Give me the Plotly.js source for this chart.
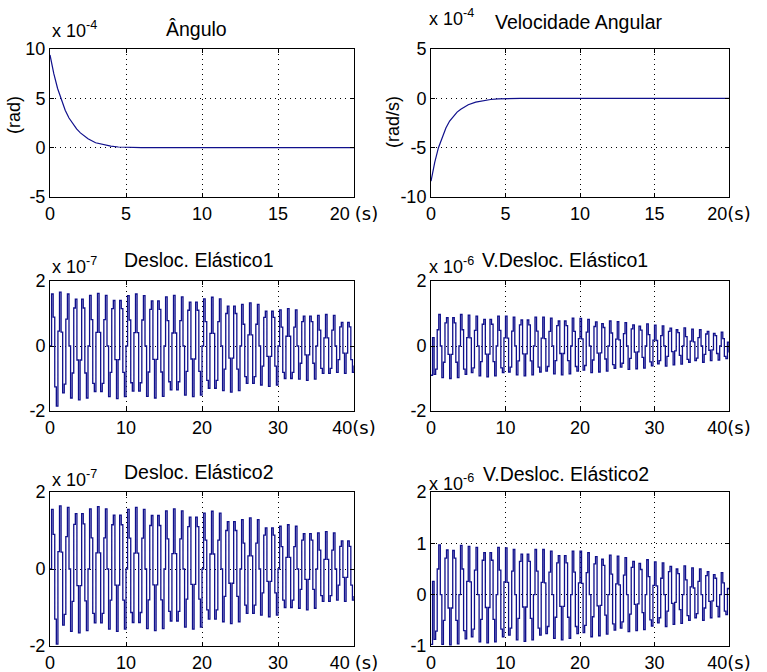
<!DOCTYPE html>
<html>
<head>
<meta charset="utf-8">
<script src="https://cdn.plot.ly/plotly-3.0.1.min.js"></script>
<style>html,body{margin:0;padding:0;background:#fff}#chart{width:767px;height:672px}</style>
</head>
<body>
<div id="chart"></div>
<script>
// ---- data (values in the axis' scaled units) ----
const angTime = [0,0.1,0.25,0.5,0.75,1,1.25,1.5,1.75,2,2.5,3,3.5,4,4.5,5,6,8,10,15,20];
const angValues = [9.4,8.6,7.5,6.0,4.8,3.8,3.0,2.4,1.9,1.5,0.9,0.5,0.3,0.15,0.07,0.03,0.01,0,0,0,0];

const velTime = [0,0.1,0.25,0.5,0.75,1,1.25,1.5,1.75,2,2.5,3,3.5,4,4.5,5,6,8,10,15,20];
const velValues = [-8.4,-7.6,-6.5,-5.0,-3.9,-3.0,-2.3,-1.8,-1.4,-1.1,-0.65,-0.38,-0.22,-0.12,-0.06,-0.03,-0.01,0,0,0,0];

const sampleStart = 0;
const sampleStep = 40/192;

const desloc1 = [0,1.6,0.89,-1.26,-1.85,0.46,1.66,0.43,-1.44,-1.17,0.83,1.6,0,-1.6,-0.83,1.17,1.44,-0.43,-1.66,-0.43,1.44,1.17,-0.83,-1.6,
0,1.56,0.81,-1.15,-1.4,0.42,1.62,0.42,-1.4,-1.15,0.81,1.56,0,-1.56,-0.81,1.15,1.4,-0.42,-1.62,-0.42,1.4,1.15,-0.81,-1.56,
0,1.55,0.8,-1.13,-1.39,0.41,1.6,0.41,-1.39,-1.13,0.8,1.55,0,-1.55,-0.8,1.13,1.39,-0.41,-1.6,-0.41,1.39,1.13,-0.8,-1.55,
0,1.51,0.78,-1.1,-1.35,0.4,1.56,0.4,-1.35,-1.1,0.78,1.51,0,-1.51,-0.78,1.1,1.35,-0.4,-1.56,-0.4,1.35,1.1,-0.78,-1.51,
0,1.45,0.75,-1.06,-1.3,0.39,1.5,0.39,-1.3,-1.06,0.75,1.45,0,-1.37,-0.71,1,1.23,-0.37,-1.42,-0.37,1.23,1,-0.71,-1.37,
0,1.28,0.67,-0.94,-1.15,0.34,1.33,0.34,-1.15,-0.94,0.67,1.28,0,-1.2,-0.62,0.88,1.07,-0.32,-1.24,-0.32,1.07,0.88,-0.62,-1.2,
0,1.11,0.58,-0.81,-1,0.3,1.15,0.3,-1,-0.81,0.58,1.11,0,-1.02,-0.53,0.75,0.92,-0.27,-1.06,-0.27,0.92,0.75,-0.53,-1.02,
0,0.94,0.49,-0.69,-0.84,0.25,0.97,0.25,-0.84,-0.69,0.49,0.94,0,-0.81,-0.42,0.59,0.73,-0.22,-0.84,-0.22,0.73,0.59,-0.42,-0.81,
-0.6];

const desloc2 = [0,1.55,0.9,-1.3,-1.95,0.45,1.64,0.44,-1.46,-1.18,0.84,1.6,0,-1.62,-0.84,1.16,1.44,-0.43,-1.66,-0.43,1.44,1.17,-0.83,-1.6,
0,1.56,0.81,-1.15,-1.4,0.42,1.62,0.42,-1.4,-1.15,0.81,1.56,0,-1.56,-0.81,1.15,1.4,-0.42,-1.62,-0.42,1.4,1.15,-0.81,-1.56,
0,1.55,0.8,-1.13,-1.39,0.41,1.6,0.41,-1.39,-1.13,0.8,1.55,0,-1.55,-0.8,1.13,1.39,-0.41,-1.6,-0.41,1.39,1.13,-0.8,-1.55,
0,1.51,0.78,-1.1,-1.35,0.4,1.56,0.4,-1.35,-1.1,0.78,1.51,0,-1.51,-0.78,1.1,1.35,-0.4,-1.56,-0.4,1.35,1.1,-0.78,-1.51,
0,1.45,0.75,-1.06,-1.3,0.39,1.5,0.39,-1.3,-1.06,0.75,1.45,0,-1.37,-0.71,1,1.23,-0.37,-1.42,-0.37,1.23,1,-0.71,-1.37,
0,1.28,0.67,-0.94,-1.15,0.34,1.33,0.34,-1.15,-0.94,0.67,1.28,0,-1.2,-0.62,0.88,1.07,-0.32,-1.24,-0.32,1.07,0.88,-0.62,-1.2,
0,1.11,0.58,-0.81,-1,0.3,1.15,0.3,-1,-0.81,0.58,1.11,0,-1.02,-0.53,0.75,0.92,-0.27,-1.06,-0.27,0.92,0.75,-0.53,-1.02,
0,0.94,0.49,-0.69,-0.84,0.25,0.97,0.25,-0.84,-0.69,0.49,0.94,0,-0.81,-0.42,0.59,0.73,-0.22,-0.84,-0.22,0.73,0.59,-0.42,-0.81,
-0.7];

const vdesloc1 = [-0.9,0.26,-0.87,-0.71,0.5,0.97,0,-0.97,-0.5,0.71,0.87,-0.26,-1,-0.26,0.87,0.71,-0.5,-0.97,0,0.97,0.5,-0.71,-0.87,0.26,
0.95,0.25,-0.82,-0.67,0.48,0.92,0,-0.92,-0.48,0.67,0.82,-0.25,-0.95,-0.25,0.82,0.67,-0.48,-0.92,0,0.92,0.48,-0.67,-0.82,0.25,
0.92,0.24,-0.8,-0.65,0.46,0.89,0,-0.89,-0.46,0.65,0.8,-0.24,-0.92,-0.24,0.8,0.65,-0.46,-0.89,0,0.89,0.46,-0.65,-0.8,0.24,
0.89,0.23,-0.77,-0.63,0.45,0.86,0,-0.86,-0.45,0.63,0.77,-0.23,-0.89,-0.23,0.77,0.63,-0.45,-0.86,0,0.86,0.45,-0.63,-0.77,0.23,
0.85,0.22,-0.74,-0.6,0.43,0.82,0,-0.82,-0.43,0.6,0.74,-0.22,-0.8,-0.21,0.69,0.57,-0.4,-0.77,0,0.77,0.4,-0.57,-0.69,0.21,
0.75,0.19,-0.65,-0.53,0.38,0.72,0,-0.72,-0.38,0.53,0.65,-0.19,-0.7,-0.18,0.61,0.49,-0.35,-0.68,0,0.68,0.35,-0.49,-0.61,0.18,
0.64,0.17,-0.55,-0.45,0.32,0.62,0,-0.62,-0.32,0.45,0.55,-0.17,-0.58,-0.15,0.5,0.41,-0.29,-0.56,0,0.56,0.29,-0.41,-0.5,0.15,
0.52,0.13,-0.45,-0.37,0.26,0.5,0,-0.5,-0.26,0.37,0.45,-0.13,-0.45,-0.12,0.39,0.32,-0.23,-0.43,0,0.43,0.23,-0.32,-0.39,0.12,
-0.2];

const vdesloc2 = [-0.97,0.26,-0.87,-0.71,0.5,0.97,0,-0.97,-0.5,0.71,0.87,-0.26,-0.98,-0.26,0.86,0.71,-0.5,-0.96,0,0.96,0.5,-0.7,-0.86,0.26,
0.94,0.25,-0.82,-0.67,0.48,0.92,0,-0.92,-0.48,0.67,0.82,-0.25,-0.94,-0.25,0.82,0.67,-0.48,-0.92,0,0.92,0.48,-0.67,-0.82,0.25,
0.91,0.24,-0.79,-0.65,0.46,0.88,0,-0.88,-0.46,0.65,0.79,-0.24,-0.91,-0.24,0.79,0.65,-0.46,-0.88,0,0.88,0.46,-0.65,-0.79,0.24,
0.88,0.23,-0.76,-0.62,0.44,0.85,0,-0.85,-0.44,0.62,0.76,-0.23,-0.88,-0.23,0.76,0.62,-0.44,-0.85,0,0.85,0.44,-0.62,-0.76,0.23,
0.85,0.22,-0.74,-0.6,0.43,0.82,0,-0.82,-0.43,0.6,0.74,-0.22,-0.8,-0.21,0.69,0.57,-0.4,-0.77,0,0.77,0.4,-0.57,-0.69,0.21,
0.75,0.19,-0.65,-0.53,0.38,0.72,0,-0.72,-0.38,0.53,0.65,-0.19,-0.7,-0.18,0.61,0.49,-0.35,-0.68,0,0.68,0.35,-0.49,-0.61,0.18,
0.64,0.17,-0.55,-0.45,0.32,0.62,0,-0.62,-0.32,0.45,0.55,-0.17,-0.58,-0.15,0.5,0.41,-0.29,-0.56,0,0.56,0.29,-0.41,-0.5,0.15,
0.52,0.13,-0.45,-0.37,0.26,0.5,0,-0.5,-0.26,0.37,0.45,-0.13,-0.45,-0.12,0.39,0.32,-0.23,-0.43,0,0.43,0.23,-0.32,-0.39,0.12,
0.1];

const unitS = '<span style="font-family:DejaVu Sans">(s)</span>';
const xTicks20 = [0,5,10,15,20];
const xText20a = ['0','5','10','15','20 ' + unitS];
const xText20b = ['0','5','10','15','20' + unitS];
const xTicks40 = [0,10,20,30,40];
const xText40a = ['0','10','20','30','40' + unitS];
const xText40b = ['0','10','20','30','40 ' + unitS];

const titles = ['Ângulo','Velocidade Angular','Desloc. Elástico1','V.Desloc. Elástico1','Desloc. Elástico2','V.Desloc. Elástico2'];
const exponents = ['-4','-4','-7','-6','-7','-6'];
const yLabels = ['(rad)','(rad/s)'];

// ---- style ----
const W = 767, H = 672;
const lineColor = '#10108c';
const tickFont = {family:'Liberation Sans Narrow, Arial Narrow, Liberation Sans, Arial, sans-serif', size:18, color:'#000'};
const textFont = {family:'Liberation Sans, Arial, sans-serif', size:19.5, color:'#000'};
const labelFont = {family:'Liberation Sans, Arial, sans-serif', size:18, color:'#000'};
const px = v => v / W;
const py = v => 1 - v / H;

function baseAxis(domain, range, ticks, text) {
  return {domain, range, tickvals: ticks, ticktext: text, ticks:'inside', ticklen:4, tickcolor:'#000',
    mirror:'allticks', showline:true, linecolor:'#000', linewidth:1, zeroline:false,
    showgrid:true, gridcolor:'#000', gridwidth:1, griddash:'1px,4px', tickfont:tickFont, fixedrange:true};
}
const xa = (d, t, tx, r, anchor) => Object.assign(baseAxis(d, r, t, tx), {anchor});
const ya = (d, t, r, anchor) => Object.assign(baseAxis(d, r, t, t.map(String)), {anchor});

const dL = [px(50), px(354)], dR = [px(431), px(729)];
const dT = [py(197), py(49)], dM = [py(411), py(281)], dB = [py(646), py(492)];

const smooth = {color:lineColor, width:1.2};
const dense = {color:lineColor, width:1.3, shape:'hv'};
const traces = [
  {x: angTime, y: angValues, xaxis:'x', yaxis:'y', mode:'lines', line:smooth},
  {x: velTime, y: velValues, xaxis:'x2', yaxis:'y2', mode:'lines', line:smooth},
  {y: desloc1, x0: sampleStart, dx: sampleStep, xaxis:'x3', yaxis:'y3', mode:'lines', line:dense},
  {y: vdesloc1, x0: sampleStart, dx: sampleStep, xaxis:'x4', yaxis:'y4', mode:'lines', line:dense},
  {y: desloc2, x0: sampleStart, dx: sampleStep, xaxis:'x5', yaxis:'y5', mode:'lines', line:dense},
  {y: vdesloc2, x0: sampleStart, dx: sampleStep, xaxis:'x6', yaxis:'y6', mode:'lines', line:dense}
];

const titlePos = [[196,29],[578,22],[199,260],[565,260],[199,472],[566,474]];
const expPos = [[50,30],[427,17],[50,265],[427,266],[50,478],[427,482]];

const annotations = [];
titles.forEach((t,i) => annotations.push({text:t, xref:'paper', yref:'paper', x:px(titlePos[i][0]), y:py(titlePos[i][1]),
  xanchor:'center', yanchor:'middle', showarrow:false, font:textFont}));
exponents.forEach((e,i) => annotations.push({text:'x 10<sup>'+e+'</sup>', xref:'paper', yref:'paper', x:px(expPos[i][0]), y:py(expPos[i][1]),
  xanchor:'left', yanchor:'middle', showarrow:false, font:{family:tickFont.family, size:18, color:'#000'}}));
annotations.push({text:yLabels[0], xref:'paper', yref:'paper', x:px(14), y:py(115), textangle:-90, xanchor:'center', yanchor:'middle', showarrow:false, font:labelFont});
annotations.push({text:yLabels[1], xref:'paper', yref:'paper', x:px(393), y:py(122), textangle:-90, xanchor:'center', yanchor:'middle', showarrow:false, font:labelFont});

const layout = {
  width: W, height: H, margin:{l:0,r:0,t:0,b:0}, paper_bgcolor:'#fff', plot_bgcolor:'#fff', showlegend:false,
  xaxis: xa(dL, xTicks20, xText20a, [0,20], 'y'), yaxis: ya(dT, [-5,0,5,10], [-5,10], 'x'),
  xaxis2: xa(dR, xTicks20, xText20b, [0,20], 'y2'), yaxis2: ya(dT, [-10,-5,0,5], [-10,5], 'x2'),
  xaxis3: xa(dL, xTicks40, xText40a, [0,40], 'y3'), yaxis3: ya(dM, [-2,0,2], [-2,2], 'x3'),
  xaxis4: xa(dR, xTicks40, xText40a, [0,40], 'y4'), yaxis4: ya(dM, [-2,0,2], [-2,2], 'x4'),
  xaxis5: xa(dL, xTicks40, xText40b, [0,40], 'y5'), yaxis5: ya(dB, [-2,0,2], [-2,2], 'x5'),
  xaxis6: xa(dR, xTicks40, xText40a, [0,40], 'y6'), yaxis6: ya(dB, [-1,0,1,2], [-1,2], 'x6'),
  annotations
};

Plotly.newPlot('chart', traces, layout, {displayModeBar:false, staticPlot:true});
</script>
</body>
</html>
